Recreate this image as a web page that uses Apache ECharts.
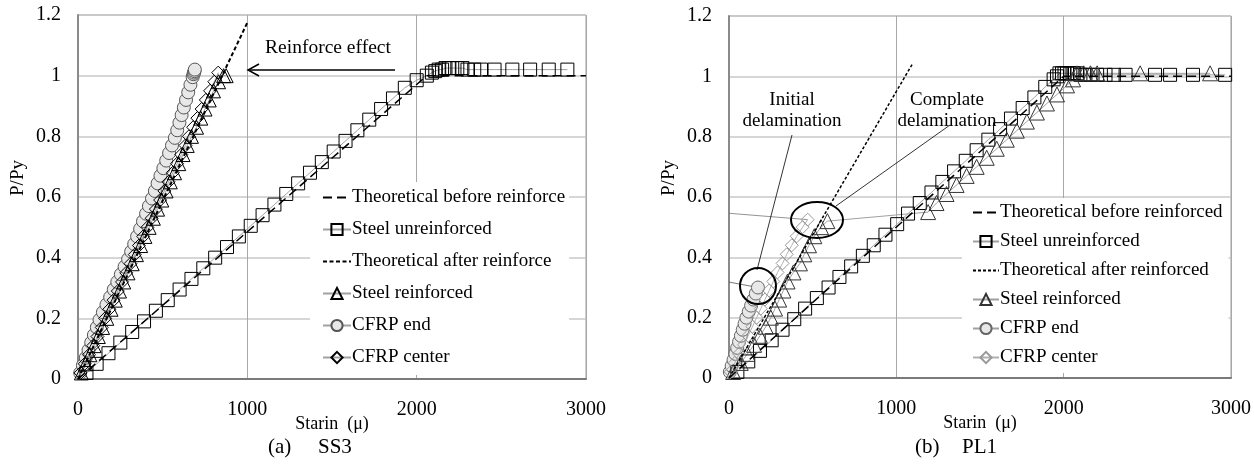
<!DOCTYPE html>
<html>
<head>
<meta charset="utf-8">
<script src="https://cdn.jsdelivr.net/npm/echarts@6/dist/echarts.min.js"></script>
<style>
  html, body { margin: 0; padding: 0; background: #fff; }
  #wrap { width: 1254px; height: 464px; position: relative; }
  .chart { position: absolute; top: 0; width: 627px; height: 464px; }
</style>
</head>
<body>
<div id="wrap">
  <div id="ss3" class="chart" style="left:0"></div>
  <div id="pl1" class="chart" style="left:627px"></div>
</div>
<script>
const FONT = '"Liberation Serif", "DejaVu Serif", serif'

const xTicks = [0, 1000, 2000, 3000]
const yTicks = [0, 0.2, 0.4, 0.6, 0.8, 1, 1.2]

const legendNamesSS3 = ['Theoretical before reinforce', 'Steel unreinforced', 'Theoretical after reinforce', 'Steel reinforced', 'CFRP end', 'CFRP center']
const legendNamesPL1 = ['Theoretical before reinforced', 'Steel unreinforced', 'Theoretical after reinforced', 'Steel reinforced', 'CFRP end', 'CFRP center']

// ---- (a) SS3 ----
const theoBeforeSS3 = [[0, 0], [2060, 1.0], [3000, 1.0]]
const theoAfterSS3 = [[0, 0], [1000, 1.175]]
const steelUnSS3 = [[50, 0.02], [110, 0.05], [180, 0.085], [250, 0.12], [320, 0.155], [390, 0.19], [460, 0.225], [530, 0.26],
  [600, 0.295], [670, 0.33], [740, 0.365], [810, 0.4], [880, 0.435], [950, 0.47], [1020, 0.505], [1090, 0.54], [1160, 0.575],
  [1230, 0.61], [1300, 0.645], [1370, 0.68], [1440, 0.715], [1510, 0.75], [1580, 0.785], [1650, 0.82], [1720, 0.855],
  [1790, 0.89], [1860, 0.925], [1930, 0.96], [2000, 0.985], [2060, 1.0], [2090, 1.01], [2110, 1.015], [2130, 1.02],
  [2150, 1.02], [2170, 1.025], [2190, 1.025], [2210, 1.025], [2240, 1.025], [2270, 1.025], [2300, 1.02], [2340, 1.02],
  [2380, 1.02], [2460, 1.02], [2565, 1.02], [2670, 1.02], [2780, 1.02], [2890, 1.02]]
const steelReSS3 = [[20, 0.02], [45, 0.05], [70, 0.08], [95, 0.11], [120, 0.14], [145, 0.17], [170, 0.2], [195, 0.23],
  [220, 0.26], [245, 0.29], [270, 0.32], [295, 0.35], [320, 0.38], [345, 0.41], [370, 0.44], [395, 0.47], [420, 0.5],
  [445, 0.53], [470, 0.56], [495, 0.59], [520, 0.62], [545, 0.65], [570, 0.68], [595, 0.71], [620, 0.74], [645, 0.77],
  [670, 0.8], [700, 0.83], [725, 0.86], [750, 0.89], [775, 0.92], [800, 0.95], [830, 0.98], [860, 1.0], [875, 1.0]]
const cfrpEndSS3 = [[13, 0.02], [29, 0.045], [46, 0.07], [62, 0.095], [78, 0.12], [94, 0.145], [111, 0.17], [127, 0.195],
  [147, 0.22], [168, 0.245], [190, 0.27], [211, 0.295], [232, 0.32], [253, 0.345], [275, 0.37], [296, 0.395], [314, 0.42],
  [332, 0.445], [349, 0.47], [367, 0.495], [384, 0.52], [402, 0.545], [419, 0.57], [437, 0.595], [454, 0.62], [470, 0.645],
  [487, 0.67], [504, 0.695], [521, 0.72], [538, 0.745], [555, 0.77], [572, 0.795], [586, 0.82], [599, 0.845], [612, 0.87],
  [625, 0.895], [638, 0.92], [651, 0.945], [664, 0.97], [677, 0.995], [682, 1.005], [685, 1.01], [688, 1.015], [690, 1.02]]
const cfrpCenSS3 = [[15, 0.02], [40, 0.05], [65, 0.08], [90, 0.11], [115, 0.14], [140, 0.17], [160, 0.2], [185, 0.23],
  [210, 0.26], [235, 0.29], [260, 0.32], [285, 0.35], [310, 0.38], [335, 0.41], [360, 0.44], [385, 0.47], [410, 0.5],
  [435, 0.53], [460, 0.56], [485, 0.59], [510, 0.62], [535, 0.65], [560, 0.68], [585, 0.71], [610, 0.74], [635, 0.77],
  [655, 0.8], [680, 0.83], [705, 0.86], [730, 0.89], [755, 0.92], [780, 0.95], [805, 0.98], [828, 1.01]]

// ---- (b) PL1 ----
const theoBeforePL1 = [[0, 0], [2000, 1.0], [3000, 1.0]]
const theoAfterPL1 = [[0, 0], [1100, 1.045]]
const steelUnPL1 = [[50, 0.02], [115, 0.055], [185, 0.09], [255, 0.125], [320, 0.16], [390, 0.195], [455, 0.23], [525, 0.265],
  [595, 0.3], [660, 0.335], [730, 0.37], [800, 0.405], [865, 0.44], [935, 0.475], [1005, 0.51], [1070, 0.545], [1140, 0.58],
  [1210, 0.615], [1275, 0.65], [1345, 0.685], [1415, 0.72], [1480, 0.755], [1550, 0.79], [1620, 0.825], [1685, 0.86],
  [1755, 0.895], [1825, 0.93], [1890, 0.965], [1940, 0.99], [1960, 1.0], [1975, 1.01], [1990, 1.01], [2005, 1.01],
  [2020, 1.01], [2040, 1.01], [2060, 1.01], [2080, 1.01], [2100, 1.005], [2130, 1.005], [2160, 1.005], [2200, 1.005],
  [2250, 1.005], [2300, 1.005], [2370, 1.005], [2546, 1.005], [2636, 1.005], [2773, 1.005], [2965, 1.005]]
const steelRePL1 = [[25, 0.02], [70, 0.05], [110, 0.08], [150, 0.11], [185, 0.14], [220, 0.17], [250, 0.2], [275, 0.23],
  [300, 0.26], [325, 0.29], [350, 0.32], [385, 0.35], [424, 0.38], [450, 0.41], [478, 0.44], [510, 0.47], [550, 0.5],
  [588, 0.52], [1190, 0.55], [1240, 0.58], [1300, 0.61], [1360, 0.64], [1420, 0.67], [1480, 0.7], [1540, 0.73],
  [1600, 0.76], [1660, 0.79], [1720, 0.82], [1780, 0.85], [1840, 0.88], [1900, 0.91], [1960, 0.94], [2020, 0.97],
  [2056, 0.99], [2080, 1.01], [2120, 1.01], [2160, 1.01], [2200, 1.01], [2457, 1.01], [2875, 1.01]]
const cfrpEndPL1 = [[5, 0.02], [16, 0.04], [27, 0.06], [38, 0.08], [49, 0.1], [60, 0.12], [71, 0.14], [82, 0.16],
  [93, 0.18], [104, 0.2], [118, 0.22], [132, 0.24], [146, 0.26], [160, 0.28], [173, 0.3]]
const cfrpEndPL1After = [[173, 0.3], [0, 0.318]]
const cfrpCenPL1 = [[10, 0.02], [35, 0.05], [60, 0.08], [90, 0.11], [115, 0.14], [140, 0.17], [165, 0.2], [190, 0.23],
  [215, 0.26], [240, 0.29], [265, 0.32], [290, 0.35], [320, 0.38], [345, 0.41], [375, 0.44], [405, 0.47], [440, 0.5],
  [470, 0.525]]
const cfrpCenPL1After = [[470, 0.525], [0, 0.546]]

function axes(gridRight, gridLeft, gridTop, gridBottom) {
  return {
    grid: { left: gridLeft, right: gridRight, top: gridTop, bottom: gridBottom, show: true, borderColor: '#9a9a9a', borderWidth: 1 },
    xAxis: {
      type: 'value', min: xTicks[0], max: xTicks[xTicks.length - 1], interval: 1000,
      name: 'Starin  (\u03bc)', nameLocation: 'middle', nameGap: 36, nameMoveOverlap: false,
      nameTextStyle: { fontFamily: FONT, fontSize: 18, color: '#000' },
      axisLine: { show: true, lineStyle: { color: '#7a7a7a', width: 2 } },
      axisTick: { show: false },
      axisLabel: { fontFamily: FONT, fontSize: 20, color: '#000', margin: 21, formatter: v => String(v) },
      splitLine: { show: true, lineStyle: { color: '#a8a8a8', width: 1 } }
    },
    yAxis: {
      type: 'value', min: yTicks[0], max: yTicks[yTicks.length - 1], interval: 0.2,
      name: 'P/Py', nameLocation: 'middle', nameGap: 50, nameRotate: 90, nameMoveOverlap: false,
      nameTextStyle: { fontFamily: FONT, fontSize: 19, color: '#000', padding: [0, 0, 0, 38] },
      axisLine: { show: true, lineStyle: { color: '#8a8a8a', width: 2 } },
      axisTick: { show: false },
      axisLabel: { fontFamily: FONT, fontSize: 20, color: '#000', margin: 17, formatter: v => String(v) },
      splitLine: { show: true, lineStyle: { color: '#c8c8c8', width: 1.5 } }
    }
  }
}

function markerSeries(name, data, symbol, size, opts) {
  opts = opts || {}
  return {
    name: name, type: 'line', data: data, symbol: symbol, symbolSize: size,
    showSymbol: true, animation: false, z: opts.z || 3,
    lineStyle: { color: opts.lineColor || '#a0a0a0', width: 1 },
    itemStyle: { color: opts.fill || 'rgba(0,0,0,0)', borderColor: opts.border || '#000', borderWidth: 1, opacity: 1 },
    emphasis: { disabled: true }
  }
}

function plainLine(name, data, dash, width, color, z) {
  return {
    name: name, type: 'line', data: data, symbol: 'none', animation: false, z: z || 4,
    lineStyle: { color: color || '#000', width: width, type: dash },
    itemStyle: { color: color || '#000' },
    emphasis: { disabled: true }
  }
}

function legendCfg(names, left, top, gap, fontSize, padding, itemW) {
  return {
    orient: 'vertical', left: left, top: top, itemGap: gap, itemWidth: itemW, itemHeight: 14,
    // dashed theory lines show only their line in the key
    data: names.map((n, i) => (i === 0 || i === 2) ? { name: n, itemStyle: { opacity: 0 } } : { name: n }),
    backgroundColor: '#fff', padding: padding, selectedMode: false,
    textStyle: { fontFamily: FONT, fontSize: fontSize, color: '#000', padding: [0, 0, 0, -4] }
  }
}

function txt(x, y, s, size, align) {
  return { type: 'text', x: x, y: y, z: 100,
    style: { text: s, fontFamily: FONT, fontSize: size, fill: '#000', align: align || 'center', verticalAlign: 'middle' } }
}

// SS3 chart
const ss3 = echarts.init(document.getElementById('ss3'))
const a1 = axes(41, 78, 15, 85)
ss3.setOption({
  animation: false,
  grid: a1.grid, xAxis: a1.xAxis, yAxis: a1.yAxis,
  legend: legendCfg(legendNamesSS3, 310, 182, 13, 19, [6, 4, 8, 12], 28),
  series: [
    plainLine(legendNamesSS3[0], theoBeforeSS3, [9, 5], 1.5, '#000', 4),
    markerSeries(legendNamesSS3[1], steelUnSS3, 'rect', 13, { z: 3 }),
    plainLine(legendNamesSS3[2], theoAfterSS3, [4, 2.5], 2, '#000', 6),
    markerSeries(legendNamesSS3[3], steelReSS3, 'triangle', 14, { z: 3 }),
    markerSeries(legendNamesSS3[4], cfrpEndSS3, 'circle', 13, { fill: '#e8e8e8', border: '#555', z: 2 }),
    markerSeries(legendNamesSS3[5], cfrpCenSS3, 'diamond', 13, { z: 3 })
  ],
  graphic: [
    txt(328, 48, 'Reinforce effect', 19.5),
    { type: 'line', z: 100, shape: { x1: 395, y1: 70, x2: 248, y2: 70 }, style: { stroke: '#000', lineWidth: 1.5 } },
    { type: 'polyline', z: 100, shape: { points: [[259, 64], [248, 70], [259, 76]] }, style: { stroke: '#000', lineWidth: 1.5, fill: null } },
    txt(268, 447, '(a)', 21, 'left'),
    txt(318, 447, 'SS3', 21, 'left')
  ]
})

// PL1 chart
const pl1 = echarts.init(document.getElementById('pl1'))
const a2 = axes(23, 102, 16, 86)
pl1.setOption({
  animation: false,
  grid: a2.grid, xAxis: a2.xAxis, yAxis: a2.yAxis,
  legend: legendCfg(legendNamesPL1, 335, 198, 10, 19, [5, 6, 6, 10], 26),
  series: [
    plainLine(legendNamesPL1[0], theoBeforePL1, [9, 5], 1.5, '#000', 4),
    markerSeries(legendNamesPL1[1], steelUnPL1, 'rect', 13, { z: 3 }),
    plainLine(legendNamesPL1[2], theoAfterPL1, [3, 2], 1.5, '#000', 6),
    markerSeries(legendNamesPL1[3], steelRePL1, 'triangle', 15, { z: 3, border: '#333' }),
    markerSeries(legendNamesPL1[4], cfrpEndPL1, 'circle', 13, { fill: '#e8e8e8', border: '#666', z: 2 }),
    markerSeries(legendNamesPL1[5], cfrpCenPL1, 'diamond', 13, { border: '#999', lineColor: '#b0b0b0', z: 3 }),
    plainLine('', cfrpEndPL1After, 'solid', 0.8, '#555', 2),
    plainLine('', cfrpCenPL1After, 'solid', 0.8, '#777', 2)
  ],
  graphic: [
    txt(165, 100, 'Initial', 19),
    txt(165, 121, 'delamination', 19),
    txt(320, 100, 'Complate', 19),
    txt(320, 121, 'delamination', 19),
    { type: 'line', z: 100, shape: { x1: 165, y1: 135, x2: 130, y2: 270 }, style: { stroke: '#000', lineWidth: 0.8 } },
    { type: 'line', z: 100, shape: { x1: 323, y1: 125, x2: 209, y2: 206 }, style: { stroke: '#000', lineWidth: 0.8 } },
    { type: 'circle', z: 100, shape: { cx: 131, cy: 286, r: 18 }, style: { stroke: '#000', lineWidth: 2, fill: null } },
    { type: 'ellipse', z: 100, shape: { cx: 190, cy: 220, rx: 26, ry: 18 }, style: { stroke: '#000', lineWidth: 2, fill: null } },
    txt(288, 447, '(b)', 21, 'left'),
    txt(335, 447, 'PL1', 21, 'left')
  ]
})
</script>
</body>
</html>
